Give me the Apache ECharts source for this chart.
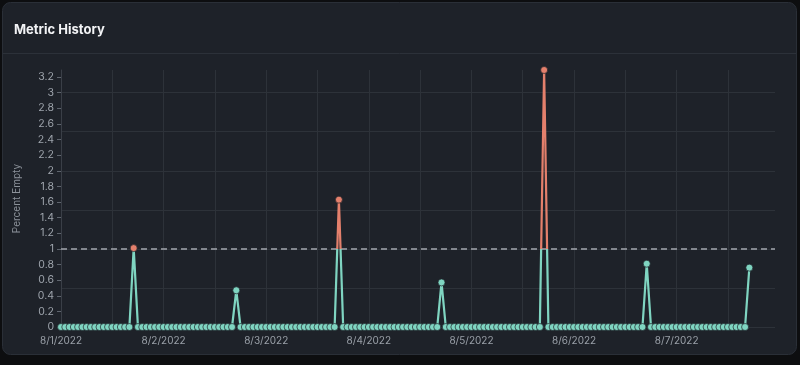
<!DOCTYPE html>
<html>
<head>
<meta charset="utf-8">
<script src="https://cdn.jsdelivr.net/npm/echarts@6/dist/echarts.min.js"></script>
<style>
html,body{margin:0;padding:0;background:#0d0e10;}
#c{width:800px;height:365px;}
</style>
</head>
<body>
<div id="c"></div>
<script>
// Hourly samples starting 8/1/2022 00:00 (index = hours since start)
const dayLabels = ['8/1/2022', '8/2/2022', '8/3/2022', '8/4/2022', '8/5/2022', '8/6/2022', '8/7/2022'];
const percentEmpty = [
  0,0,0,0,0,0,0,0,0,0,0,0,0,0,0,0,0,1.01,0,0,0,0,0,0,
  0,0,0,0,0,0,0,0,0,0,0,0,0,0,0,0,0,0.47,0,0,0,0,0,0,
  0,0,0,0,0,0,0,0,0,0,0,0,0,0,0,0,0,1.63,0,0,0,0,0,0,
  0,0,0,0,0,0,0,0,0,0,0,0,0,0,0,0,0,0.57,0,0,0,0,0,0,
  0,0,0,0,0,0,0,0,0,0,0,0,0,0,0,0,0,3.29,0,0,0,0,0,0,
  0,0,0,0,0,0,0,0,0,0,0,0,0,0,0,0,0,0.81,0,0,0,0,0,0,
  0,0,0,0,0,0,0,0,0,0,0,0,0,0,0,0,0,0.76
];
const threshold = 1;
const yTickValues = [0, 0.2, 0.4, 0.6, 0.8, 1, 1.2, 1.4, 1.6, 1.8, 2, 2.2, 2.4, 2.6, 2.8, 3, 3.2];
const xLabelHours = [0, 24, 48, 72, 96, 120, 144];
const xMaxHour = 167;   // 8/7/2022 23:00
const yMax = Math.max.apply(null, percentEmpty);

const GREEN = '#7fd5c1';
const RED = '#e4806c';
const CARD = '#1e2229';
const FONT = 'Inter, "Noto Sans", sans-serif';

const seriesData = percentEmpty.map((v, i) => [i, v]);

const chart = echarts.init(document.getElementById('c'), null, {renderer: 'canvas'});
chart.setOption({
  backgroundColor: 'transparent',
  animation: false,
  textStyle: {fontFamily: FONT},
  graphic: [
    {type: 'rect', z: -100, shape: {x: 2.5, y: 2.5, width: 794, height: 352, r: 8},
     style: {fill: CARD, stroke: '#2a2f37', lineWidth: 1}},
    {type: 'line', z: -99, shape: {x1: 3, y1: 53.5, x2: 796, y2: 53.5},
     style: {stroke: '#2c3139', lineWidth: 1}}
  ],
  title: {
    text: 'Metric History', left: 9, top: 19,
    textStyle: {color: '#f2f3f5', fontSize: 13, fontWeight: 'bold', fontFamily: FONT}
  },
  grid: {left: 61, right: 25, top: 70, bottom: 38, containLabel: false},
  xAxis: [
    {
      type: 'value', min: 0, max: xMaxHour,
      axisLine: {show: false}, axisTick: {show: false},
      splitLine: {show: false},
      axisLabel: {
        customValues: xLabelHours,
        color: '#9aa0a8', fontSize: 10, margin: 9, fontFamily: FONT,
        formatter: v => dayLabels[Math.round(v / 24)] || ''
      }
    },
    {
      type: 'value', min: 0, max: xMaxHour, interval: 12, position: 'bottom',
      axisLine: {show: false}, axisTick: {show: false}, axisLabel: {show: false},
      splitLine: {show: true, showMinLine: false, showMaxLine: false, lineStyle: {color: '#2d3239', width: 1}}
    }
  ],
  yAxis: [
    {
      type: 'value', min: 0, max: yMax,
      name: 'Percent Empty', nameLocation: 'middle', nameGap: 39, nameRotate: 90,
      nameTextStyle: {color: '#8c929a', fontSize: 10, fontFamily: FONT},
      axisLine: {show: true, lineStyle: {color: '#3a3f47'}},
      axisTick: {show: true, customValues: yTickValues, length: 4, lineStyle: {color: '#5f656e'}},
      splitLine: {show: false},
      axisLabel: {customValues: yTickValues, color: '#9ea4ac', fontSize: 10.5, margin: 7, fontFamily: FONT}
    },
    {
      type: 'value', min: 0, max: yMax, interval: 0.5, position: 'left',
      axisLine: {show: false}, axisTick: {show: false}, axisLabel: {show: false},
      splitLine: {show: true, showMaxLine: false, lineStyle: {color: '#2d3239', width: 1}}
    }
  ],
  series: [{
    type: 'line',
    data: seriesData,
    xAxisIndex: 0, yAxisIndex: 0,
    symbol: 'circle', symbolSize: 7, showAllSymbol: true,
    lineStyle: {width: 2.2, color: GREEN},
    itemStyle: {
      borderColor: CARD, borderWidth: 0.7,
      color: p => (p.value[1] > threshold ? RED : GREEN)
    },
    z: 5,
    markLine: {
      silent: true, symbol: ['none', 'none'], label: {show: false},
      lineStyle: {color: '#a3a7ad', type: [6, 4], width: 1.5},
      data: [{yAxis: threshold}]
    }
  }]
});

// Colour the line by value: red above the threshold, green at/below, using the axis scale
const yZero = chart.convertToPixel({yAxisIndex: 0}, 0);
const yThr = chart.convertToPixel({yAxisIndex: 0}, threshold);
const yTop = chart.convertToPixel({yAxisIndex: 0}, yMax);
const f = (yZero - yThr) / (yZero - yTop);
chart.setOption({
  series: [{
    lineStyle: {
      color: new echarts.graphic.LinearGradient(0, yZero, 0, yTop, [
        {offset: 0, color: GREEN}, {offset: f, color: GREEN},
        {offset: f, color: RED}, {offset: 1, color: RED}
      ], true)
    }
  }]
});
</script>
</body>
</html>
